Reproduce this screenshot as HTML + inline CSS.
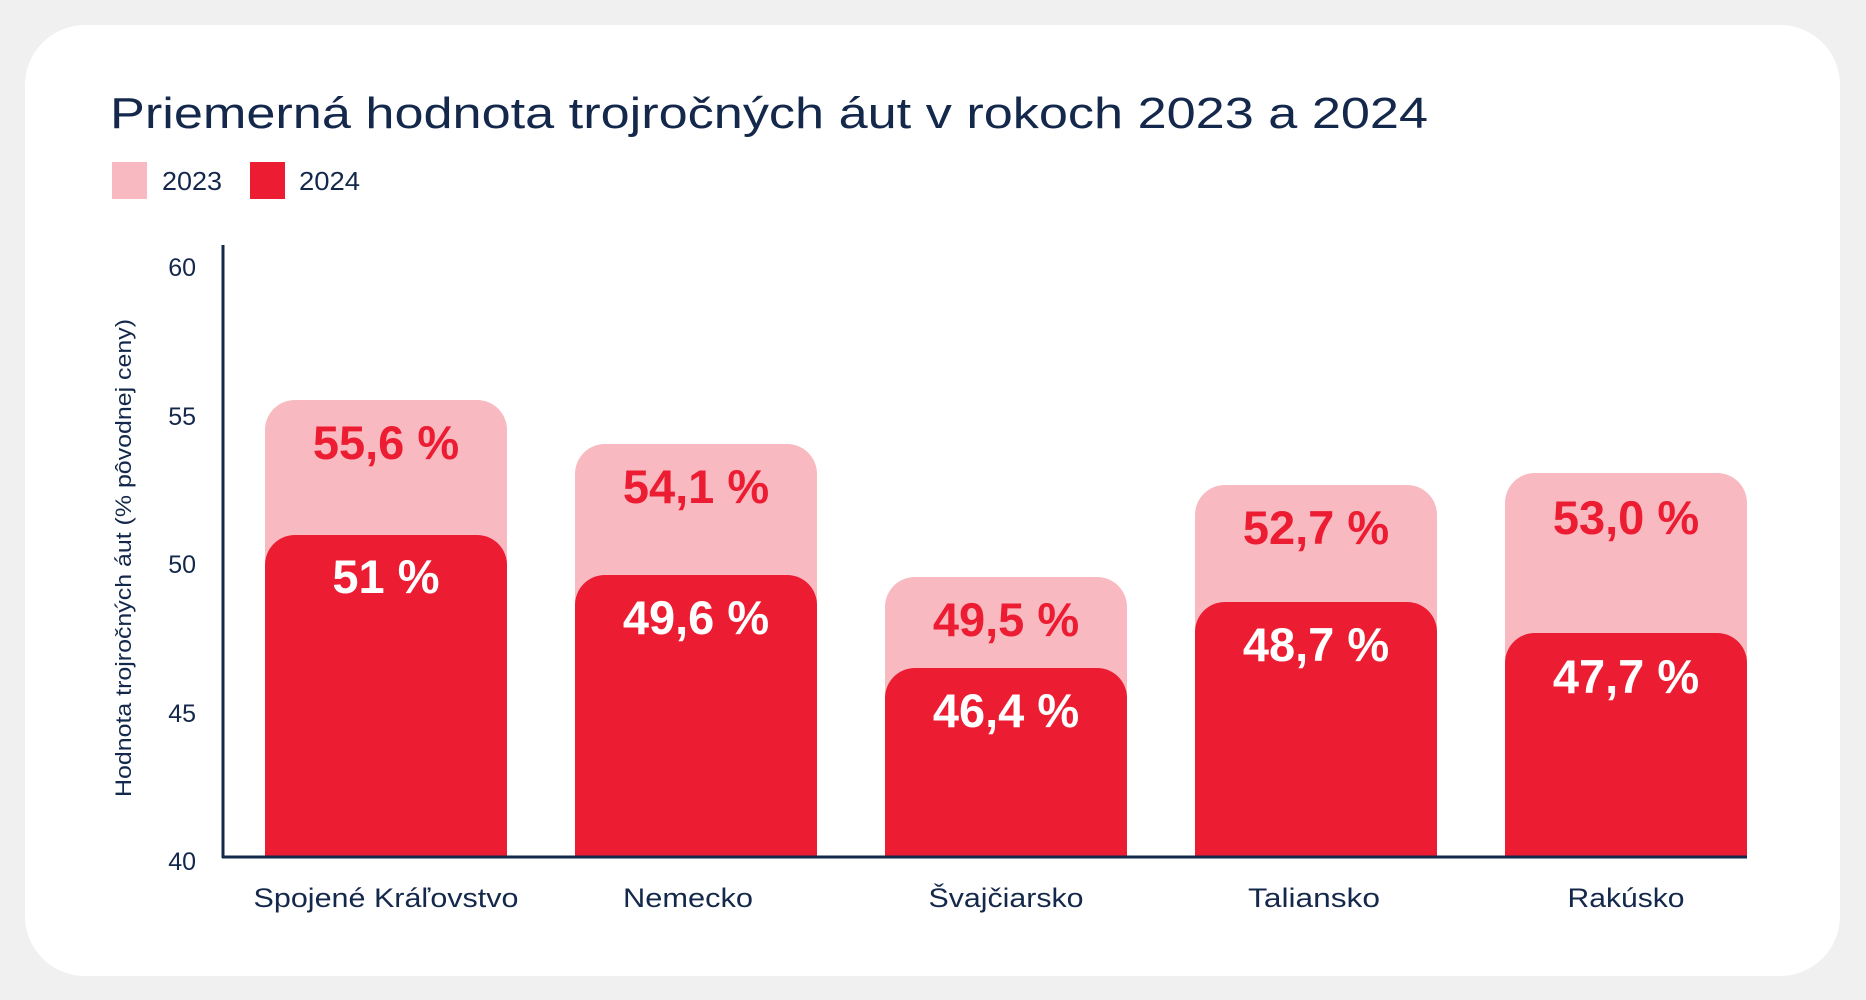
<!DOCTYPE html>
<html><head><meta charset="utf-8"><style>
html,body{margin:0;padding:0;background:#f0f0f0;}
svg{display:block;}
text{font-family:"Liberation Sans","DejaVu Sans",sans-serif;}
</style></head><body>
<svg width="1866" height="1000" viewBox="0 0 1866 1000" xmlns="http://www.w3.org/2000/svg">
<rect x="0" y="0" width="1866" height="1000" fill="#f0f0f0"/>
<rect x="25" y="25" width="1815" height="951" rx="60" fill="#ffffff"/>
<text x="110" y="128" font-size="44" fill="#14284b" textLength="1318" lengthAdjust="spacingAndGlyphs">Priemerná hodnota trojročných áut v rokoch 2023 a 2024</text>
<rect x="112" y="162" width="35" height="37" fill="#f9b9c0"/>
<text x="162" y="190" font-size="26" fill="#14284b" textLength="60" lengthAdjust="spacingAndGlyphs">2023</text>
<rect x="250" y="162" width="35" height="37" fill="#ec1c32"/>
<text x="299" y="190" font-size="26" fill="#14284b" textLength="61" lengthAdjust="spacingAndGlyphs">2024</text>
<text transform="translate(131,558) rotate(-90)" text-anchor="middle" font-size="22" fill="#14284b" textLength="478" lengthAdjust="spacingAndGlyphs">Hodnota trojročných áut (% pôvodnej ceny)</text>
<g font-size="25" fill="#14284b" text-anchor="end">
<text x="196" y="276">60</text>
<text x="196" y="425">55</text>
<text x="196" y="573">50</text>
<text x="196" y="722">45</text>
<text x="196" y="870">40</text>
</g>
<g>
<path d="M265,857 V430 a30,30 0 0 1 30,-30 H477 a30,30 0 0 1 30,30 V857 Z" fill="#f9b9c0"/>
<path d="M265,857 V565 a30,30 0 0 1 30,-30 H477 a30,30 0 0 1 30,30 V857 Z" fill="#ec1c32"/>
<path d="M575,857 V474 a30,30 0 0 1 30,-30 H787 a30,30 0 0 1 30,30 V857 Z" fill="#f9b9c0"/>
<path d="M575,857 V605 a30,30 0 0 1 30,-30 H787 a30,30 0 0 1 30,30 V857 Z" fill="#ec1c32"/>
<path d="M885,857 V607 a30,30 0 0 1 30,-30 H1097 a30,30 0 0 1 30,30 V857 Z" fill="#f9b9c0"/>
<path d="M885,857 V698 a30,30 0 0 1 30,-30 H1097 a30,30 0 0 1 30,30 V857 Z" fill="#ec1c32"/>
<path d="M1195,857 V515 a30,30 0 0 1 30,-30 H1407 a30,30 0 0 1 30,30 V857 Z" fill="#f9b9c0"/>
<path d="M1195,857 V632 a30,30 0 0 1 30,-30 H1407 a30,30 0 0 1 30,30 V857 Z" fill="#ec1c32"/>
<path d="M1505,857 V503 a30,30 0 0 1 30,-30 H1717 a30,30 0 0 1 30,30 V857 Z" fill="#f9b9c0"/>
<path d="M1505,857 V663 a30,30 0 0 1 30,-30 H1717 a30,30 0 0 1 30,30 V857 Z" fill="#ec1c32"/>
</g>
<g font-size="47" font-weight="bold" text-anchor="middle">
<text x="386" y="459" fill="#ec1c32">55,6 %</text>
<text x="386" y="593" fill="#ffffff">51 %</text>
<text x="696" y="503" fill="#ec1c32">54,1 %</text>
<text x="696" y="634" fill="#ffffff">49,6 %</text>
<text x="1006" y="636" fill="#ec1c32">49,5 %</text>
<text x="1006" y="727" fill="#ffffff">46,4 %</text>
<text x="1316" y="544" fill="#ec1c32">52,7 %</text>
<text x="1316" y="661" fill="#ffffff">48,7 %</text>
<text x="1626" y="534" fill="#ec1c32">53,0 %</text>
<text x="1626" y="693" fill="#ffffff">47,7 %</text>
</g>
<line x1="223" y1="245" x2="223" y2="858" stroke="#14284b" stroke-width="3"/>
<line x1="222" y1="857" x2="1747" y2="857" stroke="#14284b" stroke-width="3"/>
<g font-size="27" fill="#14284b" text-anchor="middle">
<text x="386" y="907" textLength="265" lengthAdjust="spacingAndGlyphs">Spojené Kráľovstvo</text>
<text x="688" y="907" textLength="130" lengthAdjust="spacingAndGlyphs">Nemecko</text>
<text x="1006" y="907" textLength="155" lengthAdjust="spacingAndGlyphs">Švajčiarsko</text>
<text x="1314" y="907" textLength="132" lengthAdjust="spacingAndGlyphs">Taliansko</text>
<text x="1626" y="907" textLength="117" lengthAdjust="spacingAndGlyphs">Rakúsko</text>
</g>
</svg>
</body></html>
